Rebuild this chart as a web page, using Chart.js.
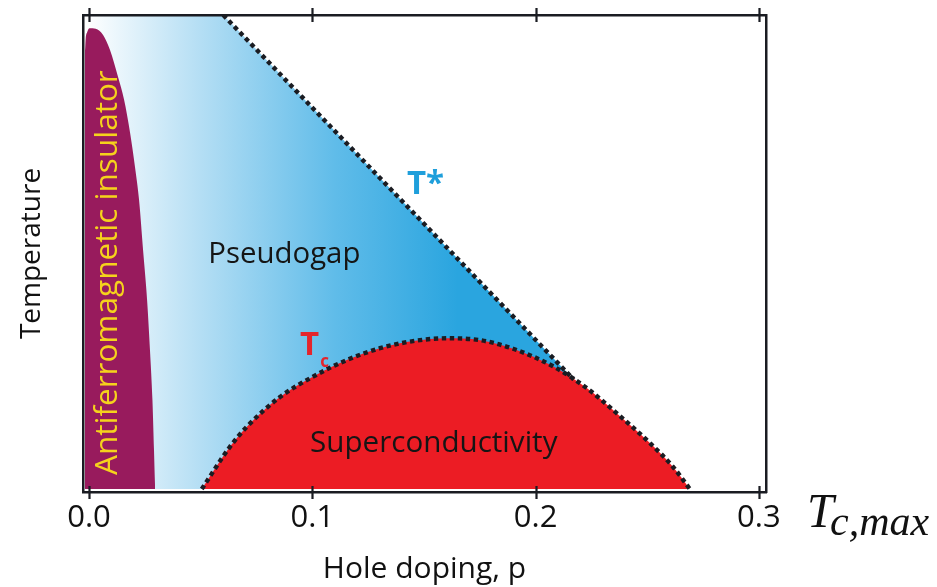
<!DOCTYPE html>
<html>
<head>
<meta charset="utf-8">
<title>Cuprate phase diagram</title>
<script src="https://cdn.jsdelivr.net/npm/chart.js@4.4.1/dist/chart.umd.min.js"></script>
<style>
  html, body { margin: 0; padding: 0; background: #ffffff; }
  #wrap { position: relative; width: 937px; height: 587px; }
</style>
</head>
<body>
<div id="wrap"><canvas id="phase"></canvas></div>
<script>
// Hole doping p on x, temperature in arbitrary units on y (1 = top of the frame)

// Antiferromagnetic insulator dome
const afDoping = [-0.0018, -0.0018, -0.0015, -0.0008, 0.0002, 0.0030, 0.0063, 0.0094, 0.0130, 0.0157,
                  0.0184, 0.0206, 0.0224, 0.0242, 0.0260, 0.0273, 0.0284, 0.0291, 0.0296];
const afTemp   = [0.000, 0.925, 0.950, 0.964, 0.972, 0.971, 0.958, 0.926, 0.869, 0.821,
                  0.751, 0.679, 0.610, 0.504, 0.399, 0.293, 0.188, 0.082, 0.000];

// Superconducting dome (Tc)
const scDoping = [0.0505, 0.0631, 0.0706, 0.0855, 0.1003, 0.1154, 0.1303, 0.1451, 0.1603,
                  0.1751, 0.1899, 0.2078, 0.2229, 0.2363, 0.2512, 0.2615, 0.2691];
const scTemp   = [0.000, 0.089, 0.131, 0.194, 0.237, 0.272, 0.297, 0.312, 0.318,
                  0.314, 0.296, 0.259, 0.213, 0.160, 0.097, 0.047, 0.000];

// Pseudogap region, bounded on the right by the T* line
const pgDoping = [-0.0027, 0.0601, 0.2171];
const pgTemp   = [1.000, 1.000, 0.231];

// T* crossover line
const tStarDoping = [0.0601, 0.2171];
const tStarTemp   = [1.000, 0.231];

// Axis ticks
const dopingTicks = [0.0, 0.1, 0.2, 0.3];

const toPoints = (xs, ys) => xs.map((x, i) => ({ x: x, y: ys[i] }));

// Colours
const INK = '#1a1c22';
const AF_PURPLE = '#981b5d';
const SC_RED = '#ec1c24';
const PG_BLUE_STOPS = [[-0.001, '#ffffff'], [0.05, '#b4def4'], [0.11, '#60bce9'], [0.165, '#2aa5df']];

function pseudogapGradient(context) {
  const chart = context.chart;
  const area = chart.chartArea;
  if (!area) return '#2aa5df';
  const xs = chart.scales.x;
  const first = xs.getPixelForValue(PG_BLUE_STOPS[0][0]);
  const last = xs.getPixelForValue(PG_BLUE_STOPS[PG_BLUE_STOPS.length - 1][0]);
  const g = chart.ctx.createLinearGradient(first, 0, last, 0);
  PG_BLUE_STOPS.forEach(([v, c]) => {
    g.addColorStop((xs.getPixelForValue(v) - first) / (last - first), c);
  });
  return g;
}

// Text drawn on the diagram, anchored in data coordinates
const regionLabels = [
  { text: 'Pseudogap', x: 0.0534, y: 0.476, font: '400 29.4px "Open Sans"', color: '#151515' },
  { text: 'Superconductivity', x: 0.0990, y: 0.0787, font: '400 29.6px "Open Sans"', color: '#151515' },
  { text: 'T*', x: 0.1424, y: 0.622, font: '700 33px "Open Sans"', color: '#1f9fdb' },
  { text: 'T', x: 0.0945, y: 0.2827, font: '700 33px "Open Sans"', color: '#e4252c' },
  { text: 'c', x: 0.1036, y: 0.258, font: '700 17px "Open Sans"', color: '#e4252c' },
  { text: 'Antiferromagnetic insulator', x: 0.0124, y: 0.0295, font: '400 31.5px "Open Sans"',
    color: '#f5d21c', rotate: -Math.PI / 2 }
];

const annotationPlugin = {
  id: 'phaseLabels',
  afterDatasetsDraw(chart) {
    const { ctx, scales: { x, y } } = chart;
    ctx.save();
    ctx.textAlign = 'left';
    ctx.textBaseline = 'alphabetic';
    regionLabels.forEach(l => {
      const px = x.getPixelForValue(l.x);
      const py = y.getPixelForValue(l.y);
      ctx.font = l.font;
      ctx.fillStyle = l.color;
      ctx.save();
      ctx.translate(px, py);
      if (l.rotate) ctx.rotate(l.rotate);
      ctx.fillText(l.text, 0, 0);
      ctx.restore();
    });
    ctx.restore();
  },
  afterDraw(chart) {
    const { ctx, chartArea, scales: { x } } = chart;
    ctx.save();
    // tick marks crossing the top and bottom frame lines
    ctx.strokeStyle = INK;
    ctx.lineWidth = 2.2;
    dopingTicks.forEach(v => {
      const px = Math.round(x.getPixelForValue(v)) + 0.5;
      ctx.beginPath();
      ctx.moveTo(px, chartArea.bottom - 6);
      ctx.lineTo(px, chartArea.bottom + 7);
      ctx.moveTo(px, chartArea.top - 7);
      ctx.lineTo(px, chartArea.top + 7);
      ctx.stroke();
    });
    // T_c,max beside the doping axis
    ctx.fillStyle = '#111111';
    ctx.textBaseline = 'alphabetic';
    ctx.textAlign = 'left';
    ctx.font = 'italic 48px "Liberation Serif"';
    const tx = chartArea.right + 41;
    const ty = chartArea.bottom + 35;
    ctx.fillText('T', tx, ty);
    ctx.font = 'italic 42px "Liberation Serif"';
    ctx.fillText('c,max', tx + 23, ty + 8);
    ctx.restore();
  }
};

const frameBorder = { display: true, color: INK, width: 2.5, z: 1 };
const dotted = { borderColor: INK, borderWidth: 4.4, borderDash: [4.4, 3.6], borderCapStyle: 'butt' };

new Chart(document.getElementById('phase'), {
  type: 'line',
  data: {
    datasets: [
      Object.assign({
        label: 'T*',
        data: toPoints(tStarDoping, tStarTemp),
        fill: false, pointRadius: 0, order: 1
      }, dotted),
      Object.assign({
        label: 'Superconductivity',
        data: toPoints(scDoping, scTemp),
        backgroundColor: SC_RED, fill: 'origin', cubicInterpolationMode: 'monotone',
        pointRadius: 0, order: 2
      }, dotted),
      {
        label: 'Antiferromagnetic insulator',
        data: toPoints(afDoping, afTemp),
        borderWidth: 0, borderColor: AF_PURPLE,
        backgroundColor: AF_PURPLE, fill: 'origin', cubicInterpolationMode: 'monotone',
        pointRadius: 0, order: 3
      },
      {
        label: 'Pseudogap',
        data: toPoints(pgDoping, pgTemp),
        borderWidth: 0, borderColor: 'rgba(0,0,0,0)',
        backgroundColor: pseudogapGradient, fill: 'origin',
        pointRadius: 0, order: 4
      }
    ]
  },
  options: {
    responsive: true,
    maintainAspectRatio: false,
    animation: false,
    layout: { padding: 0 },
    font: { family: '"Open Sans"' },
    plugins: { legend: { display: false }, tooltip: { enabled: false } },
    scales: {
      x: {
        type: 'linear', position: 'bottom', min: -0.0027, max: 0.3032,
        afterBuildTicks: s => { s.ticks = dopingTicks.map(v => ({ value: v })); },
        afterFit: s => { s.height = 95; },
        grid: { display: false, drawTicks: false },
        border: frameBorder,
        ticks: {
          padding: 8, color: '#111111', autoSkip: false, maxRotation: 0,
          font: { family: '"Open Sans"', size: 31 },
          callback: v => Number(v).toFixed(1)
        },
        title: {
          display: true, text: 'Hole doping, p', color: '#111111',
          font: { family: '"Open Sans"', size: 30 }, padding: { top: 0, bottom: 0 }
        }
      },
      xTop: {
        type: 'linear', position: 'top', min: -0.0027, max: 0.3032,
        afterFit: s => { s.height = 15; },
        grid: { display: false, drawTicks: false },
        border: frameBorder,
        ticks: { display: false }
      },
      y: {
        type: 'linear', position: 'left', min: -0.0063, max: 1.0,
        afterFit: s => { s.width = 83; },
        grid: { display: false, drawTicks: false },
        border: frameBorder,
        ticks: { display: false },
        title: {
          display: true, text: 'Temperature', color: '#111111',
          font: { family: '"Open Sans"', size: 28 }, padding: { top: 15, bottom: 0 }
        }
      },
      yRight: {
        type: 'linear', position: 'right', min: -0.0063, max: 1.0,
        afterFit: s => { s.width = 171; },
        grid: { display: false, drawTicks: false },
        border: frameBorder,
        ticks: { display: false }
      }
    }
  },
  plugins: [annotationPlugin]
});
</script>
</body>
</html>
